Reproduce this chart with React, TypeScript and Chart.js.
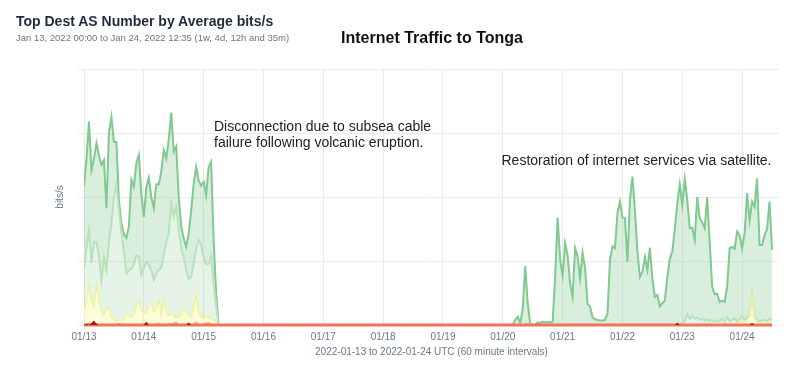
import React, { useEffect, useRef } from "react";
import { Chart, registerables } from "chart.js";

Chart.register(...registerables);

// Hours since 2022-01-13 00:00 UTC at which each hourly block starts
const PRE_START_HOUR = 0;
const POST_START_HOUR = 172;
const X_MAX_HOUR = 278.8;

const dayTickLabels = [
  "01/13", "01/14", "01/15", "01/16", "01/17", "01/18",
  "01/19", "01/20", "01/21", "01/22", "01/23", "01/24",
];

// ---- Before the outage (hours 0..54), stacked levels ----
const topGreenPre = [
  2.17, 2.6, 3.18, 2.42, 2.6, 2.84, 2.65, 2.5, 2.58, 1.83,
  3.0, 3.25, 2.86, 2.86, 1.95, 1.6, 1.42, 1.36, 1.54, 2.27,
  2.16, 2.53, 2.66, 2.05, 1.69, 2.15, 2.3, 2.0, 1.83, 2.2,
  2.2, 2.4, 2.73, 2.6, 2.9, 3.32, 2.71, 2.79, 2.0, 1.55,
  1.35, 1.22, 1.43, 1.8, 2.2, 2.47, 2.25, 2.18, 2.24, 2.03,
  2.47, 2.55, 1.33, 0.5, 0,
];
const lightGreenPre = [
  0.87, 1.2, 1.48, 0.97, 1.3, 1.3, 1.07, 0.7, 1.05, 0.86,
  1.28, 1.6, 2.0, 2.2, 1.8, 1.45, 1.15, 0.81, 0.85, 0.88,
  0.95, 1.09, 1.07, 0.78, 0.9, 0.99, 0.94, 0.85, 0.7, 0.8,
  0.86, 0.9, 1.1, 1.3, 1.43, 1.9, 1.69, 1.85, 1.5, 1.2,
  1.05, 0.85, 0.72, 0.75, 0.95, 1.2, 1.33, 1.25, 1.05, 0.95,
  0.95, 1.07, 0.65, 0.3, 0,
];
const yellowPre = [
  0.23, 0.35, 0.62, 0.4, 0.29, 0.64, 0.4, 0.2, 0.15, 0.27,
  0.25, 0.12, 0.08, 0.06, 0.08, 0.07, 0.1, 0.18, 0.15, 0.12,
  0.15, 0.3, 0.38, 0.25, 0.18, 0.2, 0.3, 0.34, 0.2, 0.25,
  0.39, 0.15, 0.39, 0.2, 0.15, 0.18, 0.14, 0.12, 0.12, 0.15,
  0.25, 0.2, 0.15, 0.12, 0.3, 0.47, 0.2, 0.12, 0.1, 0.15,
  0.12, 0.1, 0.08, 0.05, 0,
];
const orangePre = [
  0, 0.01, 0.03, 0.01, 0, 0.02, 0, 0, 0.01, 0,
  0, 0, 0, 0.01, 0.03, 0, 0, 0, 0.01, 0,
  0, 0.01, 0, 0, 0.02, 0.04, 0.01, 0, 0, 0.02,
  0.03, 0, 0, 0.01, 0.02, 0.01, 0.03, 0.05, 0.01, 0,
  0, 0.01, 0.02, 0, 0.02, 0.05, 0.01, 0, 0.02, 0.03,
  0.04, 0.01, 0, 0, 0,
];
const salmonPre = [
  0, 0, 0, 0, 0, 0, 0, 0, 0, 0,
  0, 0, 0, 0, 0, 0, 0, 0, 0, 0,
  0, 0, 0, 0, 0, 0, 0, 0, 0, 0,
  0, 0, 0, 0, 0, 0, 0, 0, 0, 0,
  0, 0, 0, 0, 0, 0, 0, 0, 0, 0,
  0, 0, 0, 0, 0,
];
const darkRedPre = [
  0, 0.02, 0, 0.03, 0.07, 0.02, 0, 0, 0, 0,
  0, 0, 0, 0, 0, 0, 0, 0, 0, 0,
  0, 0, 0, 0, 0, 0.05, 0, 0, 0, 0,
  0, 0, 0, 0, 0, 0, 0, 0, 0, 0,
  0, 0, 0.04, 0, 0, 0, 0, 0, 0, 0,
  0, 0, 0, 0, 0,
];

// ---- After restoration (hours 172..276) ----
const topGreenPost = [
  0, 0.08, 0.13, 0.03, 0.26, 0.92, 0.34, 0.02, 0, 0.01,
  0.04, 0.03, 0.05, 0.04, 0.05, 0.04, 0.05, 0.75, 1.68, 1.02,
  0.78, 1.28, 1.09, 0.65, 0.44, 1.2, 1.07, 0.73, 1.13, 0.89,
  0.33, 0.29, 0.12, 0.09, 0.08, 0.07, 0.07, 0.08, 0.18, 1.02,
  1.23, 1.2, 1.75, 1.93, 1.68, 1.67, 0.99, 1.95, 2.32, 1.8,
  1.15, 0.75, 0.83, 1.06, 0.86, 1.21, 0.73, 0.44, 0.47, 0.29,
  0.34, 0.38, 0.75, 1.03, 1.15, 1.5, 1.9, 2.2, 1.88, 2.28,
  1.95, 1.51, 1.52, 1.33, 2.0, 1.67, 1.6, 1.51, 2.0, 1.3,
  0.6, 0.48, 0.49, 0.36, 0.38, 0.36, 0.6, 1.2, 1.22, 1.19,
  1.46, 1.4, 1.2, 1.43, 2.06, 1.64, 1.93, 1.85, 2.29, 1.25,
  1.25, 1.4, 1.5, 1.93, 1.18,
];
const lightGreenPost = [
  0, 0, 0, 0, 0, 0, 0, 0, 0, 0,
  0, 0, 0, 0, 0, 0, 0, 0, 0, 0,
  0, 0, 0, 0, 0, 0, 0, 0, 0, 0,
  0, 0, 0, 0, 0, 0, 0, 0, 0, 0,
  0, 0, 0, 0, 0, 0, 0, 0, 0, 0,
  0, 0, 0, 0, 0, 0, 0, 0, 0, 0,
  0, 0, 0, 0, 0, 0, 0, 0, 0.02, 0.06,
  0.17, 0.1, 0.14, 0.1, 0.12, 0.08, 0.1, 0.07, 0.09, 0.06,
  0.08, 0.05, 0.07, 0.06, 0.1, 0.05, 0.12, 0.06, 0.08, 0.1,
  0.06, 0.09, 0.14, 0.08, 0.12, 0.15, 0.48, 0.12, 0.08, 0.06,
  0.07, 0.08, 0.06, 0.1, 0.07,
];
const yellowPost = [
  0, 0, 0, 0, 0, 0, 0, 0, 0, 0,
  0, 0, 0, 0, 0, 0, 0, 0, 0, 0,
  0, 0, 0, 0, 0, 0, 0, 0, 0, 0,
  0, 0, 0, 0, 0, 0, 0, 0, 0, 0,
  0, 0, 0, 0, 0, 0, 0, 0, 0, 0,
  0, 0, 0, 0, 0, 0, 0, 0, 0, 0,
  0, 0, 0, 0, 0, 0, 0, 0, 0, 0,
  0, 0, 0, 0, 0, 0, 0, 0, 0, 0,
  0, 0, 0, 0, 0, 0, 0, 0.02, 0.02, 0.03,
  0.03, 0.04, 0.06, 0.05, 0.08, 0.14, 0.46, 0.1, 0.05, 0.03,
  0.03, 0.02, 0.03, 0.04, 0.03,
];
const orangePost = [
  0, 0, 0, 0, 0, 0.02, 0.02, 0, 0, 0,
  0, 0, 0, 0, 0, 0, 0, 0, 0, 0,
  0, 0.02, 0, 0, 0, 0, 0, 0, 0, 0,
  0, 0, 0, 0, 0, 0, 0, 0, 0, 0,
  0, 0, 0, 0, 0, 0, 0, 0, 0, 0,
  0, 0, 0, 0, 0, 0, 0, 0, 0, 0,
  0, 0, 0, 0, 0, 0, 0.02, 0, 0, 0,
  0, 0, 0, 0, 0, 0, 0, 0, 0.02, 0,
  0, 0, 0, 0, 0, 0, 0, 0, 0, 0,
  0, 0, 0, 0, 0, 0, 0, 0, 0, 0,
  0, 0, 0, 0, 0,
];
const salmonPost = [
  0, 0, 0, 0, 0, 0, 0, 0, 0, 0,
  0, 0, 0, 0, 0, 0, 0, 0, 0, 0,
  0, 0, 0, 0, 0, 0, 0, 0, 0, 0,
  0, 0, 0, 0, 0, 0, 0, 0, 0, 0,
  0, 0, 0, 0, 0, 0, 0, 0, 0, 0,
  0, 0, 0, 0, 0, 0, 0, 0, 0, 0,
  0, 0, 0, 0, 0, 0, 0, 0, 0, 0,
  0, 0, 0, 0, 0, 0, 0, 0, 0, 0,
  0, 0, 0, 0, 0, 0, 0, 0, 0, 0,
  0, 0, 0, 0, 0, 0, 0, 0, 0, 0,
  0, 0, 0, 0, 0,
];
const darkRedPost = [
  0, 0, 0, 0, 0, 0, 0, 0, 0, 0,
  0, 0, 0, 0, 0, 0, 0, 0, 0, 0,
  0, 0, 0, 0, 0, 0, 0, 0, 0, 0,
  0, 0, 0, 0, 0, 0, 0, 0, 0, 0,
  0, 0, 0, 0, 0, 0, 0, 0, 0, 0,
  0, 0, 0, 0, 0, 0, 0, 0, 0, 0,
  0, 0, 0, 0, 0, 0, 0.04, 0, 0, 0,
  0, 0, 0, 0, 0, 0, 0, 0, 0, 0,
  0, 0, 0, 0, 0, 0, 0, 0, 0, 0,
  0, 0, 0, 0, 0, 0, 0.03, 0, 0, 0,
  0, 0, 0, 0, 0,
];

const FONT = '"Liberation Sans", Arial, Helvetica, sans-serif';
const AXIS_COLOR = "#6b7789";
const GRID_COLOR = "#ebebeb";

function toPoints(pre: number[], post: number[]) {
  return [
    ...pre.map((y, i) => ({ x: PRE_START_HOUR + i, y })),
    ...post.map((y, i) => ({ x: POST_START_HOUR + i, y })),
  ];
}

export default function App() {
  const canvasRef = useRef<HTMLCanvasElement | null>(null);

  useEffect(() => {
    const canvas = canvasRef.current;
    if (!canvas) return;
    const chart = new Chart(canvas, {
      type: "line",
      data: {
        datasets: [
          {
            label: "AS 1",
            data: toPoints(topGreenPre, topGreenPost),
            borderColor: "#80c98f",
            borderWidth: 2,
            backgroundColor: "rgba(128,200,140,0.3)",
            fill: 1,
            order: 6,
          },
          {
            label: "AS 2",
            data: toPoints(lightGreenPre, lightGreenPost),
            borderColor: "#b8e1bd",
            borderWidth: 2,
            backgroundColor: "rgba(128,200,140,0.2)",
            fill: 2,
            order: 5,
          },
          {
            label: "AS 3",
            data: toPoints(yellowPre, yellowPost),
            borderColor: "#eef39c",
            borderWidth: 1.5,
            backgroundColor: "rgba(245,247,150,0.35)",
            fill: "origin",
            order: 4,
          },
          {
            label: "AS 4",
            data: toPoints(orangePre, orangePost),
            borderColor: "#f6ae6a",
            borderWidth: 1,
            backgroundColor: "rgba(246,174,106,0.85)",
            fill: "origin",
            order: 3,
          },
          {
            label: "AS 5",
            data: toPoints(salmonPre, salmonPost),
            borderColor: "#f0735b",
            borderWidth: 3,
            fill: false,
            clip: false,
            order: 2,
          },
          {
            label: "AS 6",
            data: toPoints(darkRedPre, darkRedPost),
            borderColor: "rgba(0,0,0,0)",
            borderWidth: 1,
            backgroundColor: "#b3121f",
            fill: "origin",
            order: 1,
          },
        ],
      },
      options: {
        animation: false,
        responsive: false,
        maintainAspectRatio: false,
        events: [],
        elements: {
          point: { radius: 0, hoverRadius: 0 },
          line: { tension: 0 },
        },
        layout: { padding: { left: 50, right: 16, top: 69, bottom: 10 } },
        plugins: {
          legend: { display: false },
          tooltip: { enabled: false },
          title: { display: false },
        },
        scales: {
          x: {
            type: "linear",
            min: 0,
            max: X_MAX_HOUR,
            afterBuildTicks: (scale: any) => {
              scale.ticks = dayTickLabels.map((_, i) => ({ value: i * 24 }));
            },
            afterFit: (scale: any) => {
              scale.height = 37;
            },
            ticks: {
              autoSkip: false,
              maxRotation: 0,
              padding: 6,
              color: AXIS_COLOR,
              font: { family: FONT, size: 10 },
              callback: (v: any) => dayTickLabels[Math.round(Number(v) / 24)],
            },
            grid: { color: GRID_COLOR, drawTicks: false },
            border: { display: false },
            title: {
              display: true,
              text: "2022-01-13 to 2022-01-24 UTC (60 minute intervals)",
              color: AXIS_COLOR,
              font: { family: FONT, size: 10 },
              padding: { top: 4, bottom: 4 },
            },
          },
          y: {
            min: 0,
            max: 4,
            afterFit: (scale: any) => {
              scale.width = 34;
            },
            ticks: { display: false, stepSize: 1 },
            grid: { color: GRID_COLOR, tickLength: 6 },
            border: { display: false },
            title: {
              display: true,
              text: "bits/s",
              color: AXIS_COLOR,
              font: { family: FONT, size: 10 },
              padding: { top: 4, bottom: 4 },
            },
          },
        },
      },
    } as any);
    return () => chart.destroy();
  }, []);

  const abs = (s: React.CSSProperties): React.CSSProperties => ({
    position: "absolute",
    whiteSpace: "nowrap",
    margin: 0,
    ...s,
  });

  return (
    <div
      style={{
        position: "absolute",
        left: 0,
        top: 0,
        width: 795,
        height: 372,
        background: "#ffffff",
        fontFamily: FONT,
        overflow: "hidden",
      }}
    >
      <canvas
        ref={canvasRef}
        width={795}
        height={372}
        style={{ position: "absolute", left: 0, top: 0, width: 795, height: 372 }}
      />
      <div style={abs({ left: 16, top: 14, fontSize: 14, lineHeight: "14px", fontWeight: 700, color: "#1f2a3a" })}>
        Top Dest AS Number by Average bits/s
      </div>
      <div style={abs({ left: 16, top: 33, fontSize: 9.5, lineHeight: "9.5px", color: "#6b7685" })}>
        Jan 13, 2022 00:00 to Jan 24, 2022 12:35 (1w, 4d, 12h and 35m)
      </div>
      <div
        style={abs({
          left: 432,
          top: 29.5,
          transform: "translateX(-50%)",
          fontSize: 16,
          lineHeight: "16px",
          fontWeight: 700,
          color: "#111111",
        })}
      >
        Internet Traffic to Tonga
      </div>
      <div style={abs({ left: 214, top: 118, fontSize: 14, lineHeight: "16px", color: "#222222" })}>
        Disconnection due to subsea cable
        <br />
        failure following volcanic eruption.
      </div>
      <div style={abs({ left: 501.5, top: 151.5, fontSize: 14, lineHeight: "16px", color: "#222222" })}>
        Restoration of internet services via satellite.
      </div>
    </div>
  );
}
